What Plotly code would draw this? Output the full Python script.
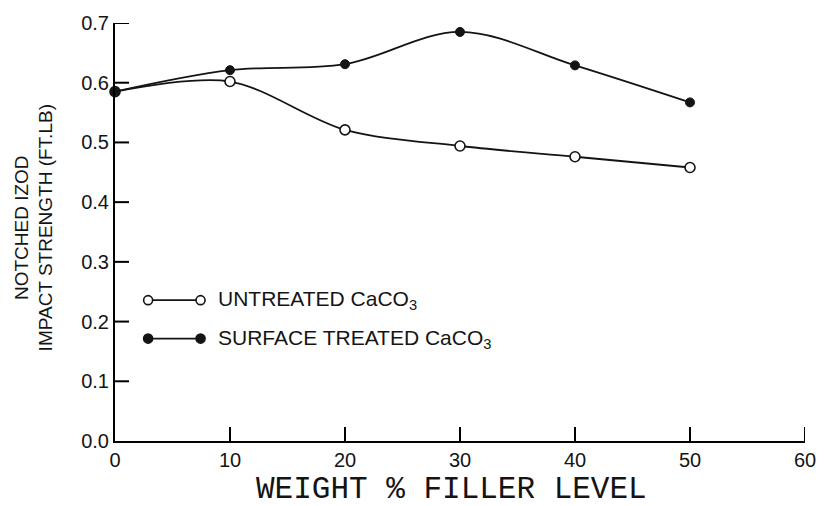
import plotly.graph_objects as go

# ---- data ----
filler_level = [0, 10, 20, 30, 40, 50]
untreated = [0.585, 0.602, 0.521, 0.494, 0.476, 0.458]
treated = [0.585, 0.621, 0.631, 0.685, 0.629, 0.567]
series_names = ["UNTREATED CaCO<sub>3</sub>", "SURFACE TREATED CaCO<sub>3</sub>"]
x_ticks = [0, 10, 20, 30, 40, 50, 60]
x_ticklabels = ["0", "10", "20", "30", "40", "50", "60"]
y_ticks = [0.0, 0.1, 0.2, 0.3, 0.4, 0.5, 0.6, 0.7]
y_ticklabels = ["0.0", "0.1", "0.2", "0.3", "0.4", "0.5", "0.6", "0.7"]

INK = "#141414"
SANS = "Liberation Sans, Arial, sans-serif"
MONO = "Liberation Mono, Courier New, monospace"

fig = go.Figure()
fig.add_trace(go.Scatter(
    x=filler_level, y=untreated, name=series_names[0], mode="lines+markers",
    line=dict(color=INK, width=1.8, shape="spline", smoothing=0.9),
    marker=dict(symbol="circle", size=10, color="white", line=dict(color=INK, width=1.6)),
    showlegend=False, cliponaxis=False,
))
fig.add_trace(go.Scatter(
    x=filler_level, y=treated, name=series_names[1], mode="lines+markers",
    line=dict(color=INK, width=1.8, shape="spline", smoothing=1.0),
    marker=dict(symbol="circle", size=9, color=INK, line=dict(color=INK, width=1)),
    showlegend=False, cliponaxis=False,
))

shapes = []
annotations = []

# ---- inward tick marks (drawn as decorations at the axis tick values) ----
TICK_LEN = 14
for t in x_ticks[1:]:
    shapes.append(dict(type="line", xref="x", yref="paper",
                       ysizemode="pixel", yanchor=0, y0=0, y1=TICK_LEN,
                       x0=t, x1=t, line=dict(color="black", width=2),
                       layer="above"))
for t in y_ticks[1:]:
    shapes.append(dict(type="line", xref="paper", yref="y",
                       xsizemode="pixel", xanchor=0, x0=0, x1=TICK_LEN,
                       y0=t, y1=t, line=dict(color="black", width=2),
                       layer="above"))

# ---- hand-drawn style key (line with markers on both ends) ----
key_rows = [
    (0.337, "white"),   # untreated
    (0.245, INK),       # treated
]
kx0, kx1, ktext = 0.048, 0.124, 0.146
for (ky, fill), label in zip(key_rows, series_names):
    shapes.append(dict(type="line", xref="paper", yref="paper",
                       x0=kx0, x1=kx1, y0=ky, y1=ky,
                       line=dict(color=INK, width=1.8), layer="above"))
    for kx in (kx0, kx1):
        shapes.append(dict(type="circle", xref="paper", yref="paper",
                           xsizemode="pixel", ysizemode="pixel",
                           xanchor=kx, yanchor=ky,
                           x0=-4.5, x1=4.5, y0=-4.5, y1=4.5,
                           fillcolor=fill, line=dict(color=INK, width=1.6),
                           layer="above"))
    annotations.append(dict(xref="paper", yref="paper", x=ktext, y=ky,
                            text=label, showarrow=False, xanchor="left",
                            yanchor="middle",
                            font=dict(family=SANS, size=21, color=INK)))

# axis titles
annotations.append(dict(
    xref="paper", yref="paper", x=-0.118, y=0.51,
    text="NOTCHED IZOD<br>IMPACT STRENGTH (FT.LB)", textangle=-90,
    showarrow=False, xanchor="center", yanchor="middle",
    font=dict(family=SANS, size=19, color=INK)))
annotations.append(dict(
    xref="paper", yref="paper", x=0.487, y=-0.115,
    text="WEIGHT % FILLER LEVEL", showarrow=False,
    xanchor="center", yanchor="middle",
    font=dict(family=MONO, size=31, color=INK)))

fig.update_layout(
    width=828, height=506,
    margin=dict(l=115, r=20, t=19, b=65),
    paper_bgcolor="white", plot_bgcolor="white",
    shapes=shapes, annotations=annotations,
    font=dict(family=SANS, color=INK),
)
axis_style = dict(
    showgrid=False, zeroline=False, showline=True, linecolor="black", linewidth=2,
    ticks="", tickfont=dict(family=SANS, size=20, color=INK),
)
fig.update_xaxes(range=[0, 60], tickmode="array", tickvals=x_ticks,
                 ticktext=x_ticklabels, **axis_style)
fig.update_yaxes(range=[0, 0.7], tickmode="array", tickvals=y_ticks,
                 ticktext=y_ticklabels, **axis_style)

fig.write_html(
    "out.html",
    config={"displayModeBar": False},
    post_script="document.body.style.margin='0';document.body.style.padding='0';",
)
